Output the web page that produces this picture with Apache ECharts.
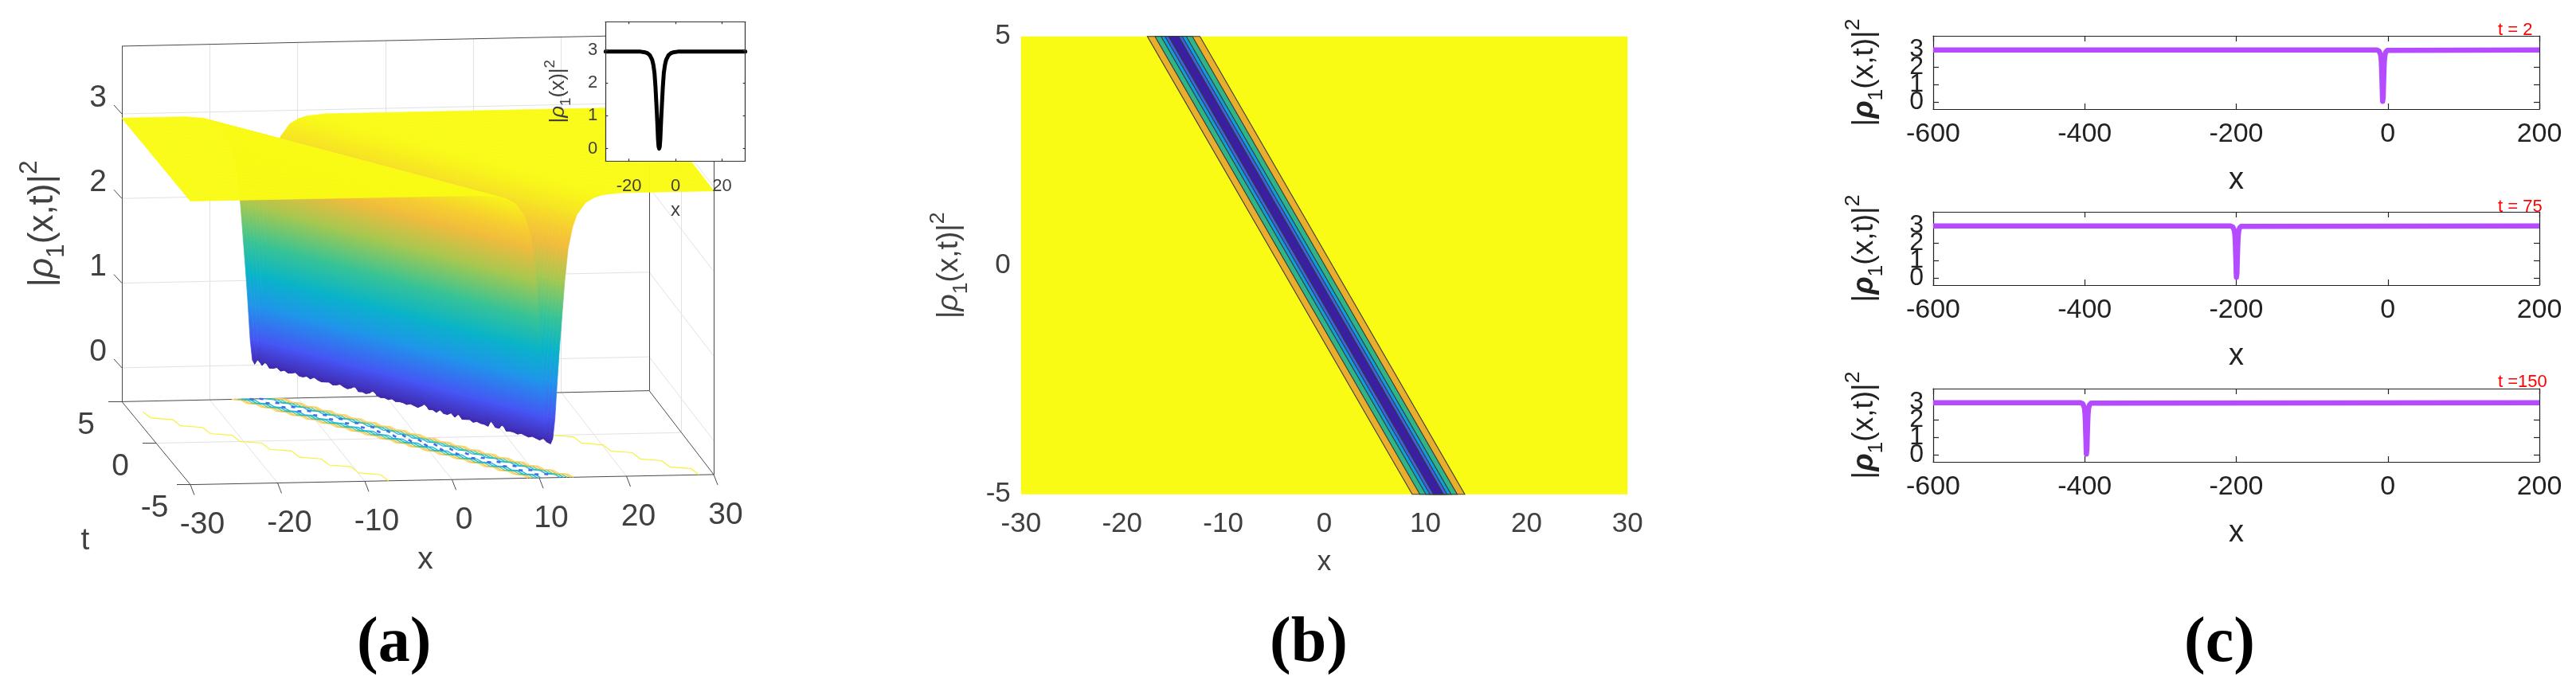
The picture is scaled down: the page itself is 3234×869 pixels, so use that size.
<!DOCTYPE html>
<html>
<head>
<meta charset="utf-8">
<title>dark soliton panels</title>
<script src="https://cdn.jsdelivr.net/npm/echarts@6/dist/echarts.min.js"></script>
<style>html,body{margin:0;padding:0;background:#fff}</style>
</head>
<body>
<div id="main" style="width:3234px;height:869px;"></div>
<script>
// values
var tSlices = [
  5, 4.875, 4.75, 4.625, 4.5, 4.375, 4.25, 4.125, 4, 3.875,
  3.75, 3.625, 3.5, 3.375, 3.25, 3.125, 3, 2.875, 2.75, 2.625,
  2.5, 2.375, 2.25, 2.125, 2, 1.875, 1.75, 1.625, 1.5, 1.375,
  1.25, 1.125, 1, 0.875, 0.75, 0.625, 0.5, 0.375, 0.25, 0.125,
  0, -0.125, -0.25, -0.375, -0.5, -0.625, -0.75, -0.875, -1, -1.125,
  -1.25, -1.375, -1.5, -1.625, -1.75, -1.875, -2, -2.125, -2.25, -2.375,
  -2.5, -2.625, -2.75, -2.875, -3, -3.125, -3.25, -3.375, -3.5, -3.625,
  -3.75, -3.875, -4, -4.125, -4.25, -4.375, -4.5, -4.625, -4.75, -4.875,
  -5
];
// where the dip sits at each t
var trackCenters = [
  -14.90, -14.57, -14.25, -13.92, -13.59, -13.26, -12.94, -12.61, -12.28, -11.95,
  -11.63, -11.30, -10.97, -10.64, -10.32, -9.99, -9.66, -9.33, -9.01, -8.68,
  -8.35, -8.02, -7.70, -7.37, -7.04, -6.71, -6.39, -6.06, -5.73, -5.40,
  -5.08, -4.75, -4.42, -4.09, -3.77, -3.44, -3.11, -2.78, -2.46, -2.13,
  -1.80, -1.47, -1.15, -0.82, -0.49, -0.16, 0.17, 0.49, 0.82, 1.15,
  1.48, 1.80, 2.13, 2.46, 2.79, 3.11, 3.44, 3.77, 4.10, 4.42,
  4.75, 5.08, 5.41, 5.73, 6.06, 6.39, 6.72, 7.04, 7.37, 7.70,
  8.03, 8.35, 8.68, 9.01, 9.34, 9.66, 9.99, 10.32, 10.65, 10.97,
  11.30
];
// jagged bottom edge of the surface
var valleyFloor = [
  .01, .09, .02, .07, .01, .02, .04, .01, .03, .01,
  .02, .04, .01, .01, .03, .01, .04, .02, .01, .02,
  .03, .01, .02, .04, .02, .01, .03, .06, .01, .02,
  .01, .03, .07, .02, .01, .02, .01, .03, .01, .02,
  .02, .01, .03, .02, .01, .04, .08, .02, .03, .01,
  .05, .02, .02, .05, .01, .06, .01, .02, .03, .01,
  .03, .02, .02, .01, .10, .02, .02, .08, .01, .02,
  .02, .01, .03, .02, .01, .03, .02, .01, .04, .01,
  .00
];
// dip profile: distance from the centre, and height there
var dipOffsets = [-8, -6, -5, -4, -3, -2.5, -2, -1.6, -1.3, -1, -0.75, -0.5, -0.25, 0, 0.25, 0.5, 0.75, 1, 1.3, 1.6, 2, 2.5, 3, 4, 5, 6, 8];
var dipLevels = [2.95, 2.93, 2.9, 2.84, 2.7, 2.55, 2.3, 1.9, 1.5, 1.1, 0.72, 0.3, 0.06, 0, 0.06, 0.3, 0.72, 1.1, 1.5, 1.9, 2.3, 2.55, 2.7, 2.84, 2.9, 2.93, 2.95];

var parula = ['#3e26a8', '#4752f4', '#2d87f7', '#10a5dc', '#05b9c1', '#35c397', '#85cc60', '#c9c23f', '#fab93d', '#f5dd26', '#f9fb15'];
var zMax = 2.95;

var xTicks3d = [-30, -20, -10, 0, 10, 20, 30];
var tTicks3d = [-5, 0, 5];
var zTicks3d = [0, 1, 2, 3];

// floor contours of panel a, as offset from the dip centre
var farContours = [-18.6, 17];
var nearContours = [-2.6, -2.3, -1.9, -1.5, -1.1, 1.1, 1.5, 1.9, 2.3, 2.6];
var nearContourColors = ['#f7d66a', '#f5c04e', '#66c98c', '#1fbcb8', '#28b4dc', '#28b4dc', '#1fbcb8', '#66c98c', '#f5c04e', '#f7d66a'];

var insetCenter = -7;

// filled contours of panel b
var bandOffsets = [2.6, 1.85, 1.25, 0.85, 0.5];
var bandColors = ['#eaae2e', '#2fb58a', '#0f9edb', '#3a62ea', '#3a1fa0'];

// panel c
var solitonCenters = [-6.6, -199.6, -397.6];
var snapshotLabels = ['t = 2', 't = 75', 't =150'];
var xTicksC = [-600, -400, -200, 0, 200];
var yTicksC = [0, 1, 2, 3];
// the labels overlap in the original and echarts drops overlapped neighbours, so they go on two axes
var yLabelsC = [0, 2];
var yLabelsCOther = [1, 3];

var sansFont = '"Liberation Sans", Arial, sans-serif';
var textGrey = '#404040';

// view box of panel a, pixels of the picture
var floorBL = [153, 504.4], floorBR = [815, 490.6], floorFR = [896, 595.9], floorFL = [239, 608.6];
var zPixels = 106.3, zBottom = -0.4, zTop = 3.8;

function proj(x, t, z) {
    var u = (x + 30) / 60, v = (5 - t) / 10;
    var px = (1 - u) * (1 - v) * floorBL[0] + u * (1 - v) * floorBR[0] + u * v * floorFR[0] + (1 - u) * v * floorFL[0];
    var py = (1 - u) * (1 - v) * floorBL[1] + u * (1 - v) * floorBR[1] + u * v * floorFR[1] + (1 - u) * v * floorFL[1];
    return [px, py - (z - zBottom) * zPixels];
}

function rhoRich(size, bold, color) {
    var w = bold ? 'bold' : 'normal';
    return {
        m: {fontSize: size, lineHeight: size * 1.5, fontFamily: sansFont, color: color},
        r: {fontSize: size, lineHeight: size * 1.5, fontFamily: sansFont, color: color, fontStyle: 'italic', fontWeight: w},
        s: {fontSize: size * 0.72, fontFamily: sansFont, color: color, verticalAlign: 'bottom'},
        p: {fontSize: size * 0.72, fontFamily: sansFont, color: color, verticalAlign: 'top'}
    };
}
var rhoText = '{m||}{r|ρ}{s|1}{m|(x,t)|}{p|2}';
var rhoTextInset = '{m||}{r|ρ}{s|1}{m|(x)|}{p|2}';

var xAxes = [], yAxes = [], grids = [], series = [];

// a frame: main axes plus mirrored ones that only carry ticks
function addFrame(box, xCfg, yCfg) {
    var g = grids.length;
    grids.push({left: box[0], top: box[1], width: box[2], height: box[3], show: false});
    var xi = xAxes.length, yi = yAxes.length;
    var line = {show: true, onZero: false, lineStyle: {color: box[4], width: box[5]}};
    var tickX = {show: true, inside: true, length: box[6], customValues: xCfg.ticks, lineStyle: {color: box[4], width: box[5]}};
    var tickY = {show: true, inside: true, length: box[6], customValues: yCfg.ticks, lineStyle: {color: box[4], width: box[5]}};
    xAxes.push({
        type: 'value', gridIndex: g, min: xCfg.min, max: xCfg.max, position: 'bottom', z: box[7], splitLine: {show: false},
        axisLine: line, axisTick: tickX,
        axisLabel: {customValues: xCfg.ticks, showMinLabel: true, showMaxLabel: true, margin: xCfg.margin, fontSize: xCfg.size, color: xCfg.color, fontFamily: sansFont},
        name: 'x', nameLocation: 'middle', nameGap: xCfg.nameGap,
        nameTextStyle: {fontSize: xCfg.nameSize, color: xCfg.color, fontFamily: sansFont}
    });
    xAxes.push({
        type: 'value', gridIndex: g, min: xCfg.min, max: xCfg.max, position: 'top', z: box[7], splitLine: {show: false},
        axisLine: line, axisTick: tickX, axisLabel: {show: false}
    });
    yAxes.push({
        type: 'value', gridIndex: g, min: yCfg.min, max: yCfg.max, position: 'left', z: box[7], splitLine: {show: false},
        axisLine: line, axisTick: tickY,
        axisLabel: {customValues: yCfg.labels || yCfg.ticks, showMinLabel: true, showMaxLabel: true, margin: yCfg.margin, fontSize: yCfg.size, color: yCfg.color, fontFamily: sansFont},
        name: yCfg.name, nameLocation: 'middle', nameRotate: 90, nameGap: yCfg.nameGap,
        nameTextStyle: {rich: rhoRich(yCfg.nameSize, yCfg.bold, yCfg.color)}
    });
    yAxes.push({
        type: 'value', gridIndex: g, min: yCfg.min, max: yCfg.max, position: 'right', z: box[7], splitLine: {show: false},
        axisLine: line, axisTick: tickY, axisLabel: {show: false}
    });
    if (yCfg.otherLabels) {
        yAxes.push({
            type: 'value', gridIndex: g, min: yCfg.min, max: yCfg.max, position: 'left', z: box[7], splitLine: {show: false},
            axisLine: {show: false, onZero: false}, axisTick: {show: false},
            axisLabel: {customValues: yCfg.otherLabels, showMinLabel: true, showMaxLabel: true, margin: yCfg.margin, fontSize: yCfg.size, color: yCfg.color, fontFamily: sansFont}
        });
    }
    return {x: xi, y: yi};
}

// dip curve for the 2d plots
function dipCurve(center, xMin, xMax) {
    var pts = [[xMin, dipLevels[0]]];
    for (var i = 0; i < dipOffsets.length; i++) {
        pts.push([center + dipOffsets[i], dipLevels[i]]);
    }
    pts.push([xMax, dipLevels[dipLevels.length - 1]]);
    return pts;
}

/* ---------- panel a ---------- */
grids.push({left: 0, top: 0, width: 1000, height: 869, show: false});
xAxes.push({type: 'value', gridIndex: 0, min: 0, max: 1000, show: false});
yAxes.push({type: 'value', gridIndex: 0, min: 0, max: 869, inverse: true, show: false});

function seg(a, b) { return {coords: [a, b]}; }
function shifted(p, dx, dy) { return [p[0] + dx, p[1] + dy]; }

var wallGrid = [], boxEdges = [];
xTicks3d.forEach(function (x) {
    if (x == -30 || x == 30) return;
    wallGrid.push(seg(proj(x, 5, zBottom), proj(x, 5, zTop)));
    wallGrid.push(seg(proj(x, 5, zBottom), proj(x, -5, zBottom)));
});
zTicks3d.forEach(function (z) {
    wallGrid.push(seg(proj(-30, 5, z), proj(30, 5, z)));
    wallGrid.push(seg(proj(30, 5, z), proj(30, -5, z)));
});
wallGrid.push(seg(proj(-30, 0, zBottom), proj(30, 0, zBottom)));
wallGrid.push(seg(proj(30, 0, zBottom), proj(30, 0, zTop)));
wallGrid.push(seg(proj(30, 5, zTop), proj(30, -5, zTop)));

boxEdges.push(seg(proj(-30, 5, zBottom), proj(-30, 5, zTop)));
boxEdges.push(seg(proj(-30, 5, zTop), proj(30, 5, zTop)));
boxEdges.push(seg(proj(30, 5, zBottom), proj(30, 5, zTop)));
boxEdges.push(seg(proj(30, -5, zBottom), proj(30, -5, zTop)));
boxEdges.push(seg(proj(-30, 5, zBottom), proj(30, 5, zBottom)));
boxEdges.push(seg(proj(-30, 5, zBottom), proj(-30, -5, zBottom)));
boxEdges.push(seg(proj(-30, -5, zBottom), proj(30, -5, zBottom)));
boxEdges.push(seg(proj(30, 5, zBottom), proj(30, -5, zBottom)));
xTicks3d.forEach(function (x) {
    var p = proj(x, -5, zBottom);
    boxEdges.push(seg(p, shifted(p, 5, 13)));
});
tTicks3d.forEach(function (t) {
    var p = proj(-30, t, zBottom);
    boxEdges.push(seg(p, shifted(p, -17, 0)));
});
zTicks3d.forEach(function (z) {
    var p = proj(-30, 5, z);
    boxEdges.push(seg(p, shifted(p, -10, -11)));
});

series.push({
    type: 'lines', coordinateSystem: 'cartesian2d', xAxisIndex: 0, yAxisIndex: 0, z: 1, silent: true,
    lineStyle: {color: '#e2e2e2', width: 1, opacity: 1}, data: wallGrid
});
series.push({
    type: 'lines', coordinateSystem: 'cartesian2d', xAxisIndex: 0, yAxisIndex: 0, z: 1, silent: true,
    lineStyle: {color: '#4a4a4a', width: 1, opacity: 1}, data: boxEdges
});

// sampled contour: long run along x, then a short drop in t
function contourStairs(off, period) {
    var pts = [], drop = Math.floor(period * 0.35);
    for (var k = 0; k + period < trackCenters.length; k += period) {
        var a = [trackCenters[k] + off, tSlices[k]];
        var b = [trackCenters[k + period - 1] + off, tSlices[k + drop]];
        if (a[0] >= -30 && a[0] <= 30) pts.push(proj(a[0], a[1], zBottom));
        if (b[0] >= -30 && b[0] <= 30) pts.push(proj(b[0], b[1], zBottom));
    }
    pts.push(proj(trackCenters[80] + off, -5, zBottom));
    return pts;
}
var floorLines = [];
farContours.forEach(function (off) {
    floorLines.push({coords: contourStairs(off, 8), lineStyle: {color: '#f6f23c', width: 1.2, opacity: 1}});
});
nearContours.forEach(function (off, i) {
    floorLines.push({coords: contourStairs(off, 4), lineStyle: {color: nearContourColors[i], width: 1.4, opacity: 1}});
});
[-0.55, 0.55].forEach(function (off) {
    floorLines.push({coords: contourStairs(off, 4), lineStyle: {color: '#3f6fe8', width: 2.6, opacity: 1, type: [5, 16]}});
});
series.push({
    type: 'lines', coordinateSystem: 'cartesian2d', polyline: true, xAxisIndex: 0, yAxisIndex: 0, z: 1, silent: true,
    data: floorLines
});

// surface cells, back to front
function levelColor(z) {
    return echarts.color.lerp(Math.max(0, Math.min(1, z / zMax)), parula);
}
function heightAt(k, j) {
    if (dipOffsets[j] == 0) return valleyFloor[k];
    if (Math.abs(dipOffsets[j]) <= 0.25) return Math.max(dipLevels[j], valleyFloor[k]);
    return dipLevels[j];
}
var surfaceCells = [];
for (var k = 0; k < tSlices.length - 1; k++) {
    var c0 = trackCenters[k], c1 = trackCenters[k + 1], t0 = tSlices[k], t1 = tSlices[k + 1];
    var last = dipOffsets.length - 1;
    surfaceCells.push({
        pts: [proj(-30, t0, zMax), proj(c0 + dipOffsets[0], t0, zMax), proj(c1 + dipOffsets[0], t1, zMax), proj(-30, t1, zMax)],
        lo: zMax, hi: zMax
    });
    surfaceCells.push({
        pts: [proj(c0 + dipOffsets[last], t0, zMax), proj(30, t0, zMax), proj(30, t1, zMax), proj(c1 + dipOffsets[last], t1, zMax)],
        lo: zMax, hi: zMax
    });
    for (var j = 0; j < last; j++) {
        var h00 = heightAt(k, j), h01 = heightAt(k, j + 1), h10 = heightAt(k + 1, j), h11 = heightAt(k + 1, j + 1);
        surfaceCells.push({
            pts: [proj(c0 + dipOffsets[j], t0, h00), proj(c0 + dipOffsets[j + 1], t0, h01), proj(c1 + dipOffsets[j + 1], t1, h11), proj(c1 + dipOffsets[j], t1, h10)],
            lo: Math.min(h00, h01, h10, h11), hi: Math.max(h00, h01, h10, h11)
        });
    }
}
series.push({
    type: 'custom', coordinateSystem: 'cartesian2d', xAxisIndex: 0, yAxisIndex: 0, z: 2, silent: true, clip: false,
    data: surfaceCells.map(function (c, i) { return [i]; }),
    renderItem: function (params, api) {
        var cell = surfaceCells[params.dataIndex];
        var fill = cell.hi - cell.lo < 0.01 ? levelColor(cell.hi) : new echarts.graphic.LinearGradient(0, 0, 0, 1, [
            {offset: 0, color: levelColor(cell.hi)}, {offset: 1, color: levelColor(cell.lo)}
        ]);
        return {
            type: 'polygon',
            shape: {points: cell.pts.map(function (p) { return api.coord(p); })},
            style: {fill: fill, stroke: fill, lineWidth: 0.7}
        };
    }
});

// tick labels and titles of the 3d box
var boxLabels = [];
zTicks3d.forEach(function (z) {
    var p = proj(-30, 5, z);
    boxLabels.push({text: String(z), at: shifted(p, -30, -20)});
});
xTicks3d.forEach(function (x) {
    var p = proj(x, -5, zBottom);
    boxLabels.push({text: String(x), at: shifted(p, 15, 51)});
});
tTicks3d.forEach(function (t) {
    var p = proj(-30, t, zBottom);
    boxLabels.push({text: String(t), at: shifted(p, -45, 30)});
});
boxLabels.push({text: 't', at: [107, 679]});
boxLabels.push({text: 'x', at: [534, 703]});
boxLabels.push({text: rhoText, at: [54, 281], rotate: true});

series.push({
    type: 'custom', coordinateSystem: 'cartesian2d', xAxisIndex: 0, yAxisIndex: 0, z: 3, silent: true, clip: false,
    data: boxLabels.map(function (c, i) { return [i]; }),
    renderItem: function (params, api) {
        var lab = boxLabels[params.dataIndex], pt = api.coord(lab.at);
        var style = {text: lab.text, align: 'center', verticalAlign: 'middle', fontSize: 39, fontFamily: sansFont, fill: textGrey};
        if (lab.rotate) style.rich = rhoRich(44, false, textGrey);
        return {type: 'text', x: pt[0], y: pt[1], rotation: lab.rotate ? Math.PI / 2 : 0, style: style};
    }
});

/* ---------- inset of panel a ---------- */
var inset = addFrame([760.3, 27.3, 175.4, 175, '#333333', 1.2, 3, 6],
    {min: -30, max: 30, ticks: [-20, 0, 20], margin: 21, size: 22, color: textGrey, nameGap: 50, nameSize: 24},
    {min: -0.38, max: 3.86, ticks: [0, 1, 2, 3], margin: 10, size: 22, color: textGrey, name: rhoTextInset, nameGap: 40, nameSize: 26, bold: false});
series.push({
    type: 'custom', coordinateSystem: 'cartesian2d', xAxisIndex: inset.x, yAxisIndex: inset.y, z: 4, silent: true,
    data: [[-30, 3.86, 30, -0.38]],
    renderItem: function (params, api) {
        var a = api.coord([api.value(0), api.value(1)]), b = api.coord([api.value(2), api.value(3)]);
        return {type: 'rect', shape: {x: a[0], y: a[1], width: b[0] - a[0], height: b[1] - a[1]}, style: {fill: '#fff'}};
    }
});
series.push({
    type: 'line', xAxisIndex: inset.x, yAxisIndex: inset.y, z: 5, silent: true, showSymbol: false, symbol: 'none',
    lineStyle: {color: '#000', width: 5, cap: 'round', join: 'round'},
    data: dipCurve(insetCenter, -30, 30)
});

/* ---------- panel b ---------- */
grids.push({left: 1281.8, top: 45.7, width: 761.5, height: 575, show: true, borderWidth: 0, backgroundColor: '#f9fb15'});
var bGrid = grids.length - 1, bx = xAxes.length, by = yAxes.length;
xAxes.push({
    type: 'value', gridIndex: bGrid, min: -30, max: 30, position: 'bottom', splitLine: {show: false},
    axisLine: {show: false, onZero: false}, axisTick: {show: false},
    axisLabel: {customValues: xTicks3d, showMinLabel: true, showMaxLabel: true, margin: 20, fontSize: 35, color: textGrey, fontFamily: sansFont},
    name: 'x', nameLocation: 'middle', nameGap: 68, nameTextStyle: {fontSize: 35, color: textGrey, fontFamily: sansFont}
});
yAxes.push({
    type: 'value', gridIndex: bGrid, min: -5, max: 5, position: 'left', splitLine: {show: false},
    axisLine: {show: false, onZero: false}, axisTick: {show: false},
    axisLabel: {customValues: tTicks3d, showMinLabel: true, showMaxLabel: true, margin: 13, fontSize: 35, color: textGrey, fontFamily: sansFont, padding: [0, 0, 10, 0]},
    name: rhoText, nameLocation: 'middle', nameRotate: 90, nameGap: 62,
    nameTextStyle: {rich: rhoRich(37, false, textGrey)}
});
series.push({
    type: 'custom', coordinateSystem: 'cartesian2d', xAxisIndex: bx, yAxisIndex: by, silent: true,
    data: bandOffsets.map(function (off, i) { return [i]; }),
    renderItem: function (params, api) {
        var off = bandOffsets[params.dataIndex];
        var top = trackCenters[0], bottom = trackCenters[trackCenters.length - 1];
        return {
            type: 'polygon',
            shape: {points: [
                api.coord([top - off, 5]), api.coord([top + off, 5]),
                api.coord([bottom + off, -5]), api.coord([bottom - off, -5])
            ]},
            style: {fill: bandColors[params.dataIndex], stroke: '#3a3a30', lineWidth: 1.1}
        };
    }
});

/* ---------- panel c ---------- */
var stripTops = [45, 266, 488];
stripTops.forEach(function (top, i) {
    var f = addFrame([2427, top, 761, 92, '#222222', 1.2, 7, 1],
        {min: -600, max: 200, ticks: xTicksC, margin: 15, size: 34, color: '#222', nameGap: 71, nameSize: 38},
        {min: -0.38, max: 3.75, ticks: yTicksC, labels: yLabelsC, otherLabels: yLabelsCOther, margin: 12, size: 32, color: '#222', name: rhoText, nameGap: 58, nameSize: 37, bold: true});
    series.push({
        type: 'line', xAxisIndex: f.x, yAxisIndex: f.y, silent: true, symbol: 'none', showSymbol: false,
        lineStyle: {color: '#b44bff', width: 6.5, cap: 'butt', join: 'round'},
        data: dipCurve(solitonCenters[i], -600, 200)
    });
});

/* ---------- captions ---------- */
var captionRich = {
    o: {fontFamily: '"Liberation Serif", serif', fontSize: 80, color: '#000'},
    b: {fontFamily: '"Liberation Serif", serif', fontSize: 80, color: '#000', fontWeight: 'bold'}
};
var titles = [
    {text: '{o|(}{b|a}{o|)}', left: 443, top: 764, textStyle: {rich: captionRich}},
    {text: '{o|(}{b|b}{o|)}', left: 1589, top: 764, textStyle: {rich: captionRich}},
    {text: '{o|(}{b|c}{o|)}', left: 2737, top: 764, textStyle: {rich: captionRich}}
];
snapshotLabels.forEach(function (s, i) {
    titles.push({
        text: s, left: 3131, top: [22, 243.5, 464][i],
        textStyle: {fontSize: 22, fontWeight: 'normal', color: '#ff0000', fontFamily: sansFont}
    });
});

var chart = echarts.init(document.getElementById('main'));
chart.setOption({
    animation: false,
    backgroundColor: '#fff',
    title: titles,
    grid: grids,
    xAxis: xAxes,
    yAxis: yAxes,
    series: series
});
</script>
</body>
</html>
